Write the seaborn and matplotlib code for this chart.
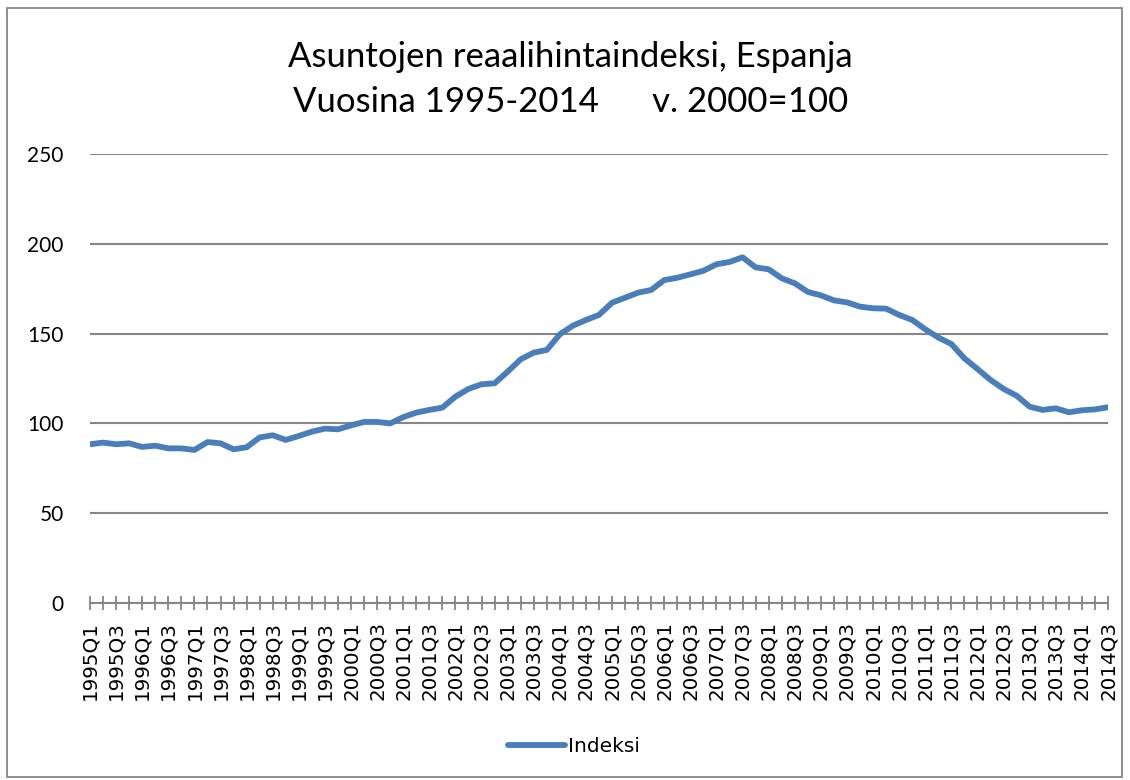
import matplotlib
matplotlib.use('Agg')
import matplotlib.pyplot as plt
import numpy as np
import pandas as pd
import seaborn as sns
from matplotlib.patches import Rectangle

# neljännesvuodet 1995Q1 - 2014Q3
years = list(range(1995, 2015))
quarters = [f'{y}Q{q}' for y in years for q in (1, 2, 3, 4)][:79]

indeksi = [
    88.4, 89.3, 88.4, 88.9, 86.9, 87.6, 86.1, 86.1,   # 1995-1996
    85.2, 89.6, 88.9, 85.6, 86.7, 92.2, 93.4, 90.8,   # 1997-1998
    93.0, 95.4, 97.1, 96.7, 98.9, 100.8, 100.8, 100.0,  # 1999-2000
    103.5, 106.0, 107.5, 108.8, 114.9, 119.2, 121.8, 122.3,  # 2001-2002
    128.8, 135.7, 139.4, 140.9, 149.6, 154.4, 157.6, 160.4,  # 2003-2004
    167.2, 170.0, 172.8, 174.3, 179.8, 181.1, 183.0, 185.0,  # 2005-2006
    188.6, 189.9, 192.5, 186.9, 185.8, 180.8, 178.0, 173.2,  # 2007-2008
    171.3, 168.5, 167.4, 165.0, 164.1, 163.9, 160.4, 157.6,  # 2009-2010
    152.4, 147.8, 144.2, 136.2, 130.3, 124.2, 119.2, 115.4,  # 2011-2012
    109.3, 107.5, 108.4, 106.2, 107.3, 107.8, 109.0,         # 2013-2014Q3
]

df = pd.DataFrame({'pos': np.arange(len(quarters)), 'Neljännes': quarters, 'Indeksi': indeksi})

sns.set_style('white')
plt.rcParams['font.family'] = ['DejaVu Sans']
plt.rcParams['text.color'] = 'black'
plt.rcParams['xtick.color'] = 'black'
plt.rcParams['ytick.color'] = 'black'

fig = plt.figure(figsize=(11.3, 7.8), dpi=100)
ax = fig.add_axes([90 / 1130, 177 / 780, 1018 / 1130, 449 / 780])

sns.lineplot(data=df, x='pos', y='Indeksi', color='#4A7EBB', linewidth=4.2, ax=ax, label='Indeksi')

ax.set_ylim(0, 250)
ax.set_yticks([0, 50, 100, 150, 200, 250])
ax.set_xlim(0, len(quarters) - 1)
ax.set_xticks(df['pos'])
ax.set_xticklabels([q if q.endswith(('Q1', 'Q3')) else '' for q in quarters], rotation=90, fontsize=14.3)
ax.tick_params(axis='x', bottom=True, direction='inout', length=10, width=1.3, color='#868686', pad=8)
ax.tick_params(axis='y', length=0, pad=19, labelsize=15)
for lbl in ax.get_yticklabels():
    lbl.set_family(['Lato', 'DejaVu Sans'])
ax.grid(axis='y', color='#868686', linewidth=1.5)
ax.set_axisbelow(True)
for s in ['top', 'right', 'left']:
    ax.spines[s].set_visible(False)
ax.spines['bottom'].set_color('#868686')
ax.spines['bottom'].set_linewidth(1.5)
ax.set_xlabel('')
ax.set_ylabel('')

leg = ax.legend(loc='center', bbox_to_anchor=((574 - 90) / 1018, (780 - 747 - 177) / 449), frameon=False,
                fontsize=14.5, handlelength=2.8, handletextpad=0.15)

title_font = ['Lato', 'DejaVu Sans']
fig.text(0.505, 1 - 57 / 780, 'Asuntojen reaalihintaindeksi, Espanja', ha='center', va='center',
         fontsize=25, family=title_font)
fig.text(0.505, 1 - 102 / 780, 'Vuosina 1995-2014      v. 2000=100', ha='center', va='center',
         fontsize=25, family=title_font)

fig.patches.append(Rectangle((7 / 1130, 3 / 780), 1115 / 1130, 769 / 780, transform=fig.transFigure,
                             fill=False, edgecolor='#868686', linewidth=1.3))

plt.savefig('out.png', dpi=100)
